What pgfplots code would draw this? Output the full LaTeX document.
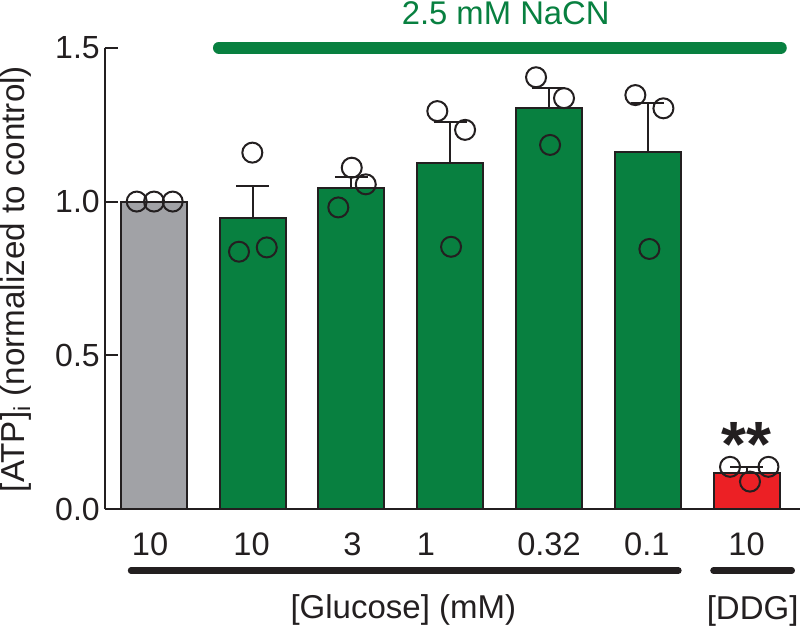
\documentclass[border=0pt]{standalone}
\usepackage{fontspec}
\setmainfont{Liberation Sans}
\usepackage{pgfplots}
\pgfplotsset{compat=1.18}
\definecolor{bargreen}{RGB}{8,128,64}
\definecolor{bargray}{RGB}{161,162,166}
\definecolor{barred}{RGB}{236,32,37}
\definecolor{ink}{RGB}{35,31,32}
\begin{document}
\begin{tikzpicture}
\path[use as bounding box] (0,0) rectangle (400pt,315.5pt);
\begin{axis}[
  at={(52.35pt,60.85pt)}, anchor=south west,
  scale only axis, width=347.65pt, height=230.8pt,
  xmin=-0.496, xmax=6.54, ymin=0, ymax=1.5,
  axis x line*=bottom, axis y line*=left,
  axis line style={-, line width=1pt, ink},
  clip=false,
  xtick={-0.037,0.99,2.01,2.756,4.0,4.99,6.0},
  xticklabels={10,10,3,1,0.32,0.1,10},
  ytick={0,0.5,1,1.5},
  yticklabels={0.0,0.5,1.0,1.5},
  xtick style={draw=none},
  ytick style={line width=1pt, ink},
  tick align=inside, major tick length=6.5pt,
  xticklabel style={inner sep=0pt, anchor=north, yshift=-11.5pt, font=\fontsize{16.3}{19}\selectfont, text=ink},
  yticklabel style={inner sep=0pt, anchor=east, xshift=-2.3pt, font=\fontsize{16}{19}\selectfont, text=ink},
]
% bars
\addplot[ybar, bar width=0.668, bar shift=0pt, fill=bargray, draw=ink, line width=1pt]
  coordinates {(0,1.0)};
\addplot[ybar, bar width=0.668, bar shift=0pt, fill=bargreen, draw=ink, line width=1pt,
  error bars/.cd, y dir=plus, y explicit,
  error bar style={line width=1pt, ink},
  error mark options={line width=1pt, ink, mark size=8.25pt, rotate=90}]
  coordinates {
  (1,0.946) +- (0,0.106)
  (2,1.045) +- (0,0.036)
  (3,1.124) +- (0,0.136)
  (4,1.305) +- (0,0.065)
  (5,1.160) +- (0,0.161)
  };
\addplot[ybar, bar width=0.668, bar shift=0pt, fill=barred, draw=ink, line width=1pt,
  error bars/.cd, y dir=plus, y explicit,
  error bar style={line width=1pt, ink},
  error mark options={line width=1pt, ink, mark size=8.25pt, rotate=90}]
  coordinates {(6,0.117) +- (0,0.019)};
% individual points
\addplot[only marks, mark=o, mark size=5pt, mark options={line width=1pt, ink}]
  coordinates {
  (-0.172,1.0) (0.003,1.0) (0.192,1.0)
  (0.998,1.159) (0.863,0.837) (1.144,0.851)
  (2.004,1.110) (1.868,0.981) (2.146,1.056)
  (2.870,1.294) (3.151,1.233) (3.009,0.853)
  (3.869,1.404) (4.152,1.336) (4.011,1.184)
  (4.874,1.346) (5.158,1.303) (5.016,0.846)
  (5.832,0.138) (6.221,0.138) (6.034,0.090)
  };
% annotations
\draw[bargreen, line width=5.85pt, line cap=round] (axis cs:0.659,1.5) -- (axis cs:6.347,1.5);
\node[anchor=base, text=bargreen, font=\fontsize{16.4}{19}\selectfont, inner sep=0pt] at (axis cs:3.562,1.574) {2.5 mM NaCN};
\draw[ink, line width=3.2pt, line cap=round] (axis cs:-0.230,-0.199) -- (axis cs:5.310,-0.199);
\draw[ink, line width=3.2pt, line cap=round] (axis cs:5.664,-0.199) -- (axis cs:6.457,-0.199);
\node[anchor=base, text=ink, font=\fontsize{16.5}{19}\selectfont, inner sep=0pt] at (axis cs:2.526,-0.355) {[Glucose] (mM)};
\node[anchor=base, text=ink, font=\fontsize{16.5}{19}\selectfont, inner sep=0pt] at (axis cs:6.061,-0.358) {[DDG]};
\node[anchor=base, rotate=90, text=ink, font=\fontsize{16.6}{19}\selectfont, inner sep=0pt] at (axis cs:-1.303,0.748) {[ATP]\textsubscript{i} (normalized to control)};
\node[anchor=center, text=ink, font=\fontsize{32}{32}\selectfont\bfseries, inner sep=0pt] at (axis cs:6.0,0.212) {**};
\end{axis}
\end{tikzpicture}
\end{document}
